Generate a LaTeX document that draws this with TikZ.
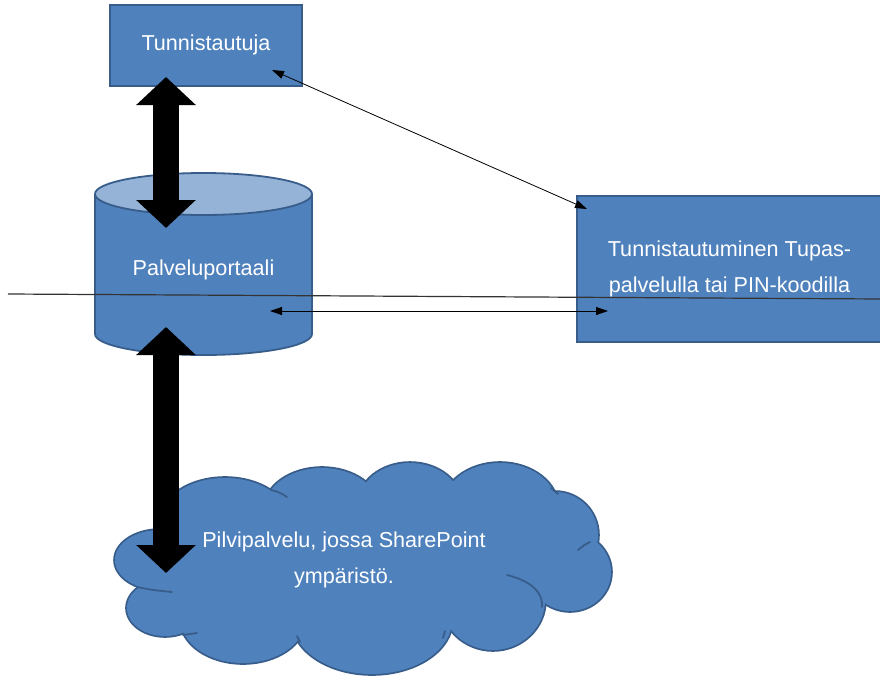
\documentclass[tikz,border=0pt]{standalone}
\usepackage{fontspec}
\setmainfont{Liberation Sans}
\usetikzlibrary{arrows.meta,calc}
\definecolor{boxfill}{HTML}{4F81BD}
\definecolor{boxline}{HTML}{385D8A}
\definecolor{topfill}{HTML}{95B3D7}
\tikzset{
  box/.style={draw=boxline, fill=boxfill, line width=1.8pt, inner sep=0pt},
  lbl/.style={text=white, font=\fontsize{21.6}{36}\selectfont, align=center},
  bigarrow/.style={line width=26pt, {Triangle[width=58pt,length=28pt]}-{Triangle[width=58pt,length=28pt]}},
  thinarrow/.style={line width=0.8pt, {Triangle[width=8pt,length=12pt]}-{Triangle[width=8pt,length=12pt]}},
  crossline/.style={line width=1.2pt, draw=black!80},
  puffline/.style={draw=boxline, line width=1.8pt, line cap=round},
}
\begin{document}
\begin{tikzpicture}[x=1pt,y=-1pt]
\useasboundingbox[fill=white] (0,0) rectangle (880,680);
% boxes
\node[box, lbl, minimum width=192pt, minimum height=81pt] (tun) at (206,45.5) {\raisebox{5pt}{Tunnistautuja}};
\node[box, lbl, minimum width=305pt, minimum height=146pt] (tup) at (729.5,269) {Tunnistautuminen Tupas-\\palvelulla tai PIN-koodilla};
% cylinder
\fill[boxfill] (95,194) -- (95,334) arc[start angle=180,end angle=0,x radius=108.5,y radius=21] -- (312,194) -- cycle;
\draw[boxline, line width=1.8pt] (95,194) -- (95,334) arc[start angle=180,end angle=0,x radius=108.5,y radius=21] -- (312,194);
\draw[boxline, fill=topfill, line width=1.8pt] (203.5,194) ellipse [x radius=108.5, y radius=21];
\node[lbl] (por) at (203.5,270) {Palveluportaali};
% cloud: outline of the puffs
\foreach \cx/\cy/\rx/\ry in {225/522/65/44, 322/510/58/42, 410/505/52/42, 500/508/58/45, 555/535/43/43, 570/572/41/39, 493/600/52/50, 372/620/80/54, 243/620/62/43, 165/608/38/28, 160/560/45/30}
  \draw[boxline, line width=3.6pt] (\cx,\cy) ellipse [x radius=\rx, y radius=\ry];
\foreach \cx/\cy/\rx/\ry in {225/522/65/44, 322/510/58/42, 410/505/52/42, 500/508/58/45, 555/535/43/43, 570/572/41/39, 493/600/52/50, 372/620/80/54, 243/620/62/43, 165/608/38/28, 160/560/45/30, 363/570/200/62}
  \fill[boxfill] (\cx,\cy) ellipse [x radius=\rx, y radius=\ry];
% inner strokes of the cloud
\draw[puffline] (271,490) .. controls (279,492) .. (287,497);
\draw[puffline] (551,488) -- (558,494);
\draw[puffline] (590,542) .. controls (584,545) .. (578,550);
\draw[puffline] (507,575) .. controls (535,582) and (543,595) .. (542,607);
\draw[puffline] (183,635) -- (197,633);
\draw[puffline] (137,587) .. controls (152,590) .. (172,592);
\draw[puffline] (445,631) -- (443,638);
\draw[puffline] (300,642) -- (297,636);
\node (cl) at (363,575) {};
\node[lbl] (cltxt) at (344,560) {Pilvipalvelu, jossa SharePoint\\ympäristö.};
% connector end points
\coordinate (l1) at (8,294);
\coordinate (l2) at (882,299);
\coordinate (d1) at (270,311);
\coordinate (d2) at (608,311);
\coordinate (g1) at (272,70);
\coordinate (g2) at (587,209);
\coordinate (a1) at (166,77);
\coordinate (a2) at (166,228);
\coordinate (b1) at (166,327);
\coordinate (b2) at (166,573);
% connectors
\draw[crossline] (l1) -- (l2);
\draw[thinarrow] (d1) -- (d2);
\draw[thinarrow] (g1) -- (g2);
\draw[bigarrow] (a1) -- (a2);
\draw[bigarrow] (b1) -- (b2);
\end{tikzpicture}
\end{document}
